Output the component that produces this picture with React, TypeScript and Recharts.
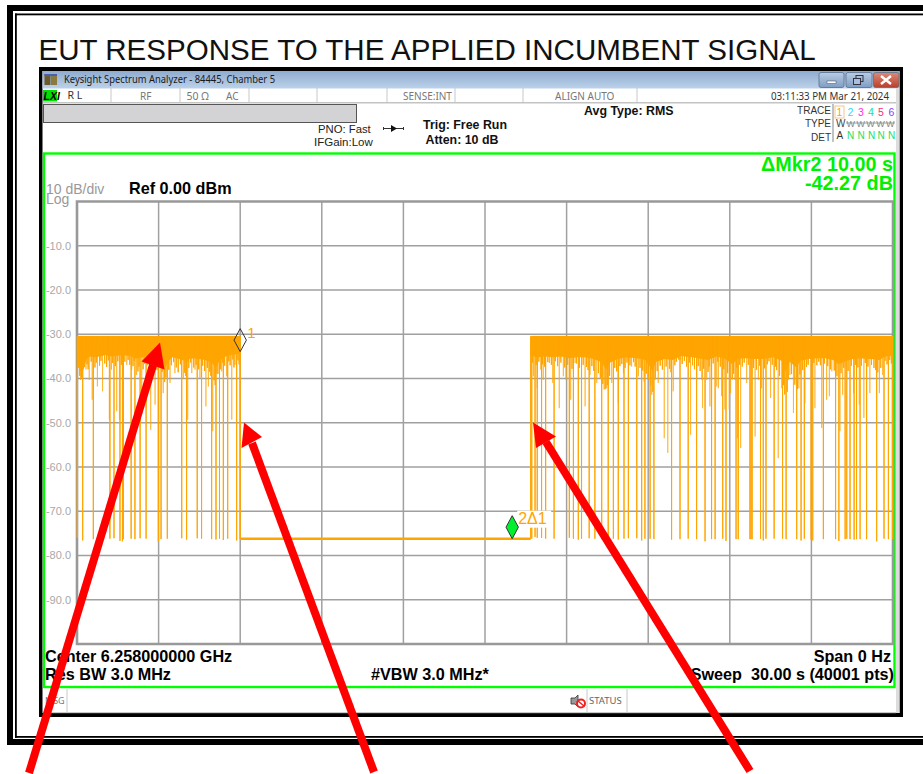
import React from "react";
import { ComposedChart, Area, Line, XAxis, YAxis, CartesianGrid, ReferenceArea, ReferenceDot } from "recharts";

const TITLE = "EUT RESPONSE TO THE APPLIED INCUMBENT SIGNAL";
const yTicks = [-10, -20, -30, -40, -50, -60, -70, -80, -90];
const xGrid = [3, 6, 9, 12, 15, 18, 21, 24, 27];
const TRACE_TOP = -30.5;
const FLOOR = -76.2;

const leftDeepDips: [number, number][] = [
  [0.01, -76], [0.21, -76.6], [0.6, -76.3], [1.21, -76.2], [1.36, -76.1], [1.58, -76.7], [1.67, -76.8], [1.71, -76.3],
  [1.99, -76.2], [2.13, -76.3], [2.32, -76.1], [2.54, -76.2], [2.99, -76.9], [3.09, -76.3], [3.32, -76.2], [3.85, -76.1],
  [4.03, -76.4], [4.42, -76.1], [4.58, -76.2], [4.95, -76.3], [5.11, -76.4], [5.24, -76.2], [5.38, -76.5], [5.54, -76.2],
  [5.87, -76.6], [6.0, -76.2],
];
const leftPartialDips: [number, number][] = [
  [0.13, -40.3], [0.33, -38], [0.45, -40.3], [0.56, -44.8], [0.75, -41.8], [0.94, -42.9], [1.19, -49.3], [1.27, -38],
  [1.46, -47.4], [1.56, -49.3], [1.83, -36.9], [2.01, -38], [2.19, -39.2], [2.38, -46.3], [2.71, -51.6], [2.87, -45.9],
  [3.17, -43.3], [3.42, -41], [3.6, -38.8], [3.91, -39.9], [4.07, -49.3], [4.22, -38.8], [4.34, -38], [4.52, -39.9],
  [4.74, -46.3], [4.83, -41.8], [4.99, -51.9], [5.14, -38.8], [5.32, -38.4], [5.5, -39.5], [5.69, -49.3], [5.81, -36.9],
];
const leftShortDips: [number, number][] = [
  [0.06, -37.6], [0.1, -39.4], [0.17, -39.8], [0.27, -37.4], [0.37, -36.8], [0.41, -37.9], [0.52, -36.2], [0.66, -37.5], [0.71, -36.4],
  [0.83, -37.1], [0.88, -36], [1.02, -36.6], [1.09, -37.4], [1.15, -35.9], [1.31, -36.5], [1.41, -37.2], [1.5, -36.1], [1.63, -36.9],
  [1.76, -36.2], [1.88, -35.8], [1.94, -36.9], [2.06, -37.2], [2.1, -36], [2.24, -38.4], [2.28, -37.3], [2.43, -37.9], [2.49, -36.7],
  [2.6, -37], [2.66, -36.1], [2.78, -37.6], [2.83, -36.4], [2.94, -38.1], [3.04, -37.5], [3.13, -38.5], [3.22, -40.8], [3.27, -39.8],
  [3.37, -38], [3.47, -37], [3.55, -36.3], [3.65, -37.5], [3.72, -38.6], [3.8, -36.8], [3.96, -38.7], [4.0, -39.4], [4.11, -37.6],
  [4.18, -36.4], [4.29, -37.5], [4.38, -36.9], [4.47, -37.9], [4.62, -37.1], [4.69, -38.3], [4.79, -37.6], [4.88, -38.5], [4.92, -39.4],
  [5.04, -40.4], [5.08, -41.5], [5.18, -39], [5.28, -37.9], [5.35, -36.4], [5.43, -37.1], [5.58, -36.1], [5.63, -37], [5.73, -35.7],
  [5.77, -37.5], [5.92, -35.9], [5.96, -36.8],
];
const rightDeepDips: [number, number][] = [
  [16.68, -76.2], [16.72, -76.2], [16.84, -75.8], [16.92, -76], [17.08, -76], [17.23, -76.2], [17.54, -76.2], [18.1, -76],
  [18.25, -76.2], [18.43, -76.4], [18.55, -76.2], [18.83, -76.1], [19.04, -76.2], [19.29, -76.3], [19.53, -76.2], [19.72, -76.2],
  [19.9, -76.4], [20.11, -76.2], [20.27, -76.1], [20.58, -76.1], [20.76, -76.6], [20.88, -76.2], [21.07, -76.2], [21.21, -76.3],
  [21.86, -76.4], [22.17, -76.3], [22.47, -76.2], [22.78, -76.3], [23.09, -76.8], [23.33, -76.3], [23.46, -76.3], [23.74, -76.2],
  [23.86, -76.7], [24.23, -76.3], [24.31, -76.3], [24.74, -76.3], [24.78, -76.3], [24.82, -76.3], [25.13, -76.2], [25.23, -76.6],
  [25.33, -76.2], [25.63, -76.2], [25.94, -76.2], [26.07, -76.3], [26.46, -76.3], [26.62, -76.6], [26.74, -76.2], [26.99, -76.4],
  [27.05, -76.6], [27.44, -76.3], [27.89, -76.3], [28.01, -76.7], [28.24, -76.3], [28.3, -76.2], [28.42, -76.3], [28.57, -76.4],
  [28.66, -76.3], [28.79, -76.3], [29.03, -76.3], [29.4, -76.8], [29.67, -76.2], [29.83, -76.3], [29.99, -76.3],
];
const rightPartialDips: [number, number][] = [
  [16.78, -39.5], [16.92, -42.2], [17.05, -38], [17.14, -40.3], [17.37, -36.5], [17.49, -41], [17.73, -46.7], [17.88, -39.5],
  [17.98, -40.3], [18.15, -44.8], [18.31, -36.5], [18.68, -46.3], [18.86, -39.2], [19.11, -41], [19.38, -42.5], [19.47, -42.2],
  [19.66, -41], [19.9, -45.6], [20.09, -38.8], [20.39, -37.3], [20.64, -39.5], [20.85, -40.7], [21.13, -43.7], [21.37, -41],
  [21.59, -53.5], [21.72, -56.8], [21.92, -42.9], [22.17, -35.8], [22.56, -52.7], [22.78, -39.9], [22.97, -40.3], [23.27, -46.3],
  [23.52, -41.8], [23.0, -46.7], [23.15, -40.3], [23.58, -42.2], [23.7, -44], [23.82, -47], [23.98, -47], [24.03, -43.3],
  [24.19, -40.3], [24.28, -53.5], [24.4, -55.7], [24.62, -41], [24.93, -53.1], [25.05, -40.3], [25.17, -42.2], [25.5, -44.4],
  [25.78, -58], [25.91, -42.2], [26.21, -39.2], [26.34, -47.8], [26.54, -42.2], [26.76, -45.6], [27.13, -46.7], [27.38, -51.2],
  [27.56, -44.8], [27.66, -44], [27.75, -38.4], [28.05, -51.9], [28.15, -43.7], [28.55, -43.3], [28.76, -45.9], [28.93, -48.9],
  [29.15, -43.3], [29.5, -43.3], [29.62, -39.2],
];
const rightShortDips: [number, number][] = [
  [16.75, -36.4], [16.88, -36.9], [16.98, -36.2], [17.11, -36.8], [17.19, -37.3], [17.31, -36.3], [17.44, -36.9], [17.59, -36.1], [17.67, -37.2],
  [17.79, -36.4], [17.93, -37.5], [18.04, -36.9], [18.2, -37.8], [18.36, -36.6], [18.47, -37.6], [18.61, -36.9], [18.73, -37.4], [18.79, -38.1],
  [18.93, -37.2], [19.0, -38.3], [19.17, -38.8], [19.24, -40], [19.33, -41.2], [19.42, -42.4], [19.5, -41.5], [19.58, -39.4], [19.77, -37.6],
  [19.84, -38.4], [19.96, -37.2], [20.03, -36.7], [20.15, -37.6], [20.22, -36.4], [20.33, -37], [20.46, -36.3], [20.52, -37.3], [20.7, -37.6],
  [20.8, -38.2], [20.93, -38.9], [21.0, -40.1], [21.09, -41.6], [21.17, -43], [21.26, -40.2], [21.33, -38.3], [21.44, -37.1], [21.52, -38],
  [21.66, -37.3], [21.78, -37.8], [21.84, -38.6], [21.98, -37], [22.04, -36.2], [22.11, -35.7], [22.25, -36.7], [22.33, -36], [22.41, -37.3],
  [22.52, -36.4], [22.63, -37], [22.7, -37.9], [22.84, -37.2], [22.91, -38.3], [23.04, -37.8], [23.2, -38.5], [23.24, -37.3], [23.39, -36.6],
  [23.56, -36.2], [23.65, -37.3], [23.78, -37.9], [23.92, -38.8], [24.09, -40.2], [24.14, -38.9], [24.25, -37.5], [24.36, -36.9], [24.46, -37.3],
  [24.53, -36.4], [24.68, -36.9], [24.87, -37.6], [24.98, -38], [25.1, -37.1], [25.27, -37.7], [25.38, -36.8], [25.44, -36.1], [25.56, -36.9],
  [25.68, -37.3], [25.72, -38.1], [25.83, -39.4], [25.98, -41.5], [26.02, -43.6], [26.11, -43], [26.15, -40.2], [26.27, -39], [26.39, -41.4],
  [26.49, -42.4], [26.58, -39.1], [26.68, -38.1], [26.82, -37.4], [26.88, -36.9], [27.02, -37.2], [27.09, -36.5], [27.2, -37], [27.27, -36.2],
  [27.33, -37], [27.48, -36.6], [27.6, -37.2], [27.7, -37.9], [27.84, -38.2], [27.94, -39.5], [28.09, -38.8], [28.19, -37.6], [28.35, -38.3],
  [28.47, -37.1], [28.62, -36.9], [28.71, -37.5], [28.84, -37.1], [28.98, -36.5], [29.08, -37.3], [29.21, -36.9], [29.3, -37.6], [29.36, -38.1],
  [29.44, -38.6], [29.55, -37.6], [29.71, -36], [29.78, -36.8], [29.88, -35.8], [29.94, -36.6],
];
const leftBandEdge: [number, number][] = [
  [0, -34.3], [0.12, -38.4], [0.24, -38], [0.36, -35.4], [0.5, -35], [0.7, -35.2], [0.9, -34.9], [1.05, -34.7], [1.25, -35],
  [1.5, -34.8], [1.7, -34.7], [1.95, -34.9], [2.15, -35.5], [2.3, -35.3], [2.5, -35], [2.8, -35.5], [3.0, -35.8], [3.15, -36.2],
  [3.25, -37.5], [3.35, -36.2], [3.5, -35.2], [3.7, -35.5], [3.9, -35.9], [4.03, -36.5], [4.15, -35.5], [4.4, -35.5], [4.7, -35.8],
  [4.95, -36.4], [5.1, -37.5], [5.25, -35.9], [5.5, -34.9], [5.75, -34.6], [6.0, -34.4],
];
const rightBandEdge: [number, number][] = [
  [16.68, -34.8], [16.9, -35.2], [17.2, -35], [17.5, -35.2], [17.8, -35], [18.1, -35.4], [18.4, -35.2], [18.7, -35.2],
  [19.0, -35.6], [19.3, -36.4], [19.45, -38], [19.6, -36.4], [19.9, -35.6], [20.2, -35.2], [20.6, -35.4], [20.9, -35.8],
  [21.15, -38.2], [21.3, -36.2], [21.6, -35.6], [21.9, -35.8], [22.2, -34.9], [22.6, -35.2], [22.9, -35.5], [23.2, -35.8],
  [23.5, -35], [23.8, -35.5], [24.1, -36.8], [24.3, -35.5], [24.6, -35.4], [24.9, -35.6], [25.2, -35.6], [25.6, -35.2],
  [25.9, -36], [26.05, -38.5], [26.2, -36.2], [26.45, -37.5], [26.6, -36], [26.9, -35.6], [27.2, -35.4], [27.5, -35.4],
  [27.8, -35.8], [28.0, -36.8], [28.3, -36], [28.6, -35.5], [28.9, -35.5], [29.2, -35.6], [29.5, -35.8], [29.7, -35], [30, -34.8],
];
const floorLevels: [number, number][] = [
  [6.0, -76.2], [16.68, -76.2],
];

const zig = (dips: [number, number][], key: string) =>
  [...dips].sort((a, b) => a[0] - b[0]).flatMap(([t, v]) => [
    { t, [key]: TRACE_TOP },
    { t, [key]: v },
    { t, [key]: TRACE_TOP },
  ]);
const rows: any[] = [
  ...leftBandEdge.map(([t, v]) => ({ t, bandLeft: [v, TRACE_TOP] })),
  ...rightBandEdge.map(([t, v]) => ({ t, bandRight: [v, TRACE_TOP] })),
  ...zig(leftDeepDips, "deepLeft"),
  ...zig(rightDeepDips, "deepRight"),
  ...zig(leftPartialDips, "partLeft"),
  ...zig(rightPartialDips, "partRight"),
  ...zig(leftShortDips, "shortLeft"),
  ...zig(rightShortDips, "shortRight"),
  ...floorLevels.map(([t, v]) => ({ t, floor: v })),
].map((r, i) => ({ ...r, i }));
rows.sort((a, b) => a.t - b.t || a.i - b.i);

const ORANGE = "#ffa500";
const SANS = "'Liberation Sans', Arial, sans-serif";
const UI = "'Noto Sans', sans-serif";

const Diamond = (fill: string, label: string, labelDx: number, labelDy: number, bg: boolean, size: number) => (p: any) => {
  const { cx, cy } = p;
  const w = 6.2, h = 23;
  return (
    <g>
      {bg && <rect x={cx + labelDx - 1} y={cy + labelDy - 13} width={34} height={17} fill="#fff" />}
      <polygon points={`${cx},${cy} ${cx - w},${cy - h / 2} ${cx},${cy - h} ${cx + w},${cy - h / 2}`} fill={fill} stroke="#333" strokeWidth={1} />
      <text x={cx + labelDx} y={cy + labelDy} fontFamily={SANS} fontSize={size} fill={ORANGE}>{label}</text>
    </g>
  );
};

const Arrow = ({ x1, y1, x2, y2, tip, a, b }: any) => (
  <g>
    <line x1={x1} y1={y1} x2={x2} y2={y2} stroke="#ff0000" strokeWidth={8} />
    <polygon points={`${tip[0]},${tip[1]} ${a[0]},${a[1]} ${b[0]},${b[1]}`} fill="#ff0000" />
  </g>
);

const T = ({ x, y, s = 11, c = "#000", b = false, f = SANS, a = "start", children, ...rest }: any) => (
  <text x={x} y={y} fontSize={s} fill={c} fontWeight={b ? 700 : 400} fontFamily={f} textAnchor={a} {...rest}>{children}</text>
);

const WinBtn = ({ x, w, red, children }: any) => (
  <g>
    <rect x={x} y={72.5} width={w} height={15} rx={2} fill={red ? "url(#btnRed)" : "url(#btnBlue)"} stroke="#5a6e8a" strokeWidth={0.8} />
    {children}
  </g>
);

const Sep = ({ x, y1 = 88, y2 = 102 }: any) => <line x1={x} x2={x} y1={y1} y2={y2} stroke="#c8c8c8" strokeWidth={1} />;

export default function App() {
  return (
    <div style={{ position: "absolute", left: 0, top: 0, width: 923, height: 774, background: "#fff", overflow: "hidden" }}>
      <svg width={923} height={774} style={{ position: "absolute", left: 0, top: 0 }}>
        <defs>
          <linearGradient id="titleBar" x1="0" y1="0" x2="0" y2="1">
            <stop offset="0" stopColor="#8fabcf" />
            <stop offset="1" stopColor="#bcd2ea" />
          </linearGradient>
          <linearGradient id="btnBlue" x1="0" y1="0" x2="0" y2="1">
            <stop offset="0" stopColor="#b9cde4" />
            <stop offset="1" stopColor="#7f9dc3" />
          </linearGradient>
          <linearGradient id="btnRed" x1="0" y1="0" x2="0" y2="1">
            <stop offset="0" stopColor="#dc8a78" />
            <stop offset="1" stopColor="#b9402c" />
          </linearGradient>
        </defs>
        {/* page frame */}
        <rect x={7} y={5} width={930} height={6} fill="#000" />
        <rect x={7} y={5} width={6} height={740} fill="#000" />
        <rect x={7} y={739} width={930} height={6} fill="#000" />
        <rect x={15} y={13.5} width={920} height={1.8} fill="#000" />
        <rect x={15} y={13.5} width={1.8} height={724.5} fill="#000" />
        <rect x={15} y={736} width={920} height={1.8} fill="#000" />
        <T x={38.5} y={60} s={29.55} c="#111">{TITLE}</T>

        {/* analyzer window */}
        <rect x={39} y={67} width={864} height={650} fill="#000" />
        <rect x={42.5} y={71} width={857} height={642} fill="#fff" />
        <rect x={42.5} y={71} width={857} height={17.5} fill="url(#titleBar)" />
        <rect x={896} y={88} width={3.5} height={625} fill="#dcdcdc" />
        <rect x={44.5} y={74} width={6} height={11} fill="#6b5a2e" />
        <rect x={51} y={75} width={6} height={10} fill="#8a7a3e" />
        <rect x={44.5} y={74} width={12.5} height={2} fill="#4a5fae" />
        <T x={64} y={83} s={10.6} f={UI} c="#1a1a1a" textLength={211} lengthAdjust="spacingAndGlyphs">Keysight Spectrum Analyzer - 84445, Chamber 5</T>
        <WinBtn x={819} w={25}><rect x={827} y={81} width={9} height={2.5} fill="#fff" stroke="#445" strokeWidth={0.5} /></WinBtn>
        <WinBtn x={846} w={26}>
          <rect x={856} y={75.5} width={7} height={6} fill="none" stroke="#334" strokeWidth={1} />
          <rect x={853.5} y={78.5} width={7} height={6} fill="#a8c0dc" stroke="#334" strokeWidth={1} />
        </WinBtn>
        <WinBtn x={873.5} w={25.5} red>
          <path d="M881,76 L891,84 M891,76 L881,84" stroke="#fff" strokeWidth={2.4} />
        </WinBtn>

        {/* status bar */}
        <rect x={43} y={90} width={14} height={11.5} fill="#00e000" />
        <T x={43.5} y={100} s={10.5} b c="#000" fontStyle="italic">LXI</T>
        <T x={67.5} y={99} s={10.5} f={UI} c="#333">R L</T>
        <T x={140} y={100} s={10} f={UI} c="#777">RF</T>
        <T x={186.5} y={100} s={10.5} f={UI} c="#777">50 Ω</T>
        <T x={226} y={100} s={10} f={UI} c="#777">AC</T>
        <T x={403} y={100} s={10} f={UI} c="#777">SENSE:INT</T>
        <T x={555} y={100} s={10} f={UI} c="#777">ALIGN AUTO</T>
        <T x={771} y={100} s={10.4} f={UI} c="#333" textLength={118} lengthAdjust="spacingAndGlyphs">03:11:33 PM Mar 21, 2024</T>
        {[111, 180, 249, 317, 387, 455, 523, 637].map((x) => <Sep key={x} x={x} />)}
        <rect x={43} y={102} width={853} height={1.5} fill="#c4c4c4" />
        <rect x={43.5} y={104.5} width={313} height={18} fill="#d3d2d4" stroke="#555" strokeWidth={1} />

        <T x={318} y={133} s={11.3} c="#222">PNO: Fast</T>
        <T x={314} y={146} s={11.5} c="#222">IFGain:Low</T>
        <line x1={383} x2={404} y1={128.5} y2={128.5} stroke="#333" strokeWidth={1} />
        <polygon points="391,125 397,128.5 391,132" fill="#111" />
        <line x1={383.5} x2={383.5} y1={127} y2={130} stroke="#333" />
        <line x1={403.5} x2={403.5} y1={127} y2={130} stroke="#333" />
        <T x={423} y={129} s={12.4} b c="#111">Trig: Free Run</T>
        <T x={425.5} y={144} s={12.4} b c="#111">Atten: 10 dB</T>
        <T x={584} y={115} s={12.4} b c="#111">Avg Type: RMS</T>

        {/* trace table */}
        <T x={831} y={114} s={10} a="end" c="#333">TRACE</T>
        <T x={831} y={127} s={10} a="end" c="#333">TYPE</T>
        <T x={831} y={141} s={10} a="end" c="#333">DET</T>
        <line x1={833} x2={833} y1={104} y2={142} stroke="#999" strokeWidth={1.2} />
        <rect x={835} y={106} width={9} height={12} fill="none" stroke="#f3c892" strokeWidth={1} />
        {[["1", 836.5, ORANGE], ["2", 847.5, "#22e0ff"], ["3", 858, "#ff30e0"], ["4", 868, "#22e08a"], ["5", 878, "#ff2a80"], ["6", 888.5, "#8a40ff"]].map(([l, x, c]) => (
          <T key={l as string} x={x} y={115.5} s={10.5} c={c}>{l}</T>
        ))}
        <T x={836} y={127} s={10} c="#444">W</T>
        <T x={846.5} y={127} s={9} c="#888" textLength={48}>WWWWW</T>
        <line x1={846} x2={895} y1={123} y2={123} stroke="#888" strokeWidth={0.8} />
        <T x={836.5} y={139} s={10} c="#333">A</T>
        {[847, 857.5, 868, 877.5, 888].map((x) => <T key={x} x={x} y={139} s={10} c="#22e060">N</T>)}

        {/* green frame */}
        <rect x={44} y={153.5} width={850.5} height={533.5} fill="none" stroke="#00ff00" strokeWidth={2.4} />
        <T x={893} y={171} s={19.8} b c="#00f000" a="end">ΔMkr2 10.00 s</T>
        <T x={893} y={190} s={19.8} b c="#00f000" a="end">-42.27 dB</T>
        <T x={46} y={193.5} s={14} c="#999">10 dB/div</T>
        <T x={46} y={203.5} s={14} c="#999">Log</T>
        <T x={129} y={193.5} s={16.2} b c="#000">Ref 0.00 dBm</T>
        <T x={45} y={661.5} s={16.2} b c="#000">Center 6.258000000 GHz</T>
        <T x={45} y={679.5} s={16.2} b c="#000">Res BW 3.0 MHz</T>
        <T x={371} y={679.5} s={16.2} b c="#000">#VBW 3.0 MHz*</T>
        <T x={891} y={661.5} s={16.2} b c="#000" a="end">Span 0 Hz</T>
        <T x={894} y={679.5} s={16.2} b c="#000" a="end" style={{ whiteSpace: "pre" }}>Sweep  30.00 s (40001 pts)</T>

        {/* message bar */}
        <T x={45} y={704} s={9} f={UI} c="#777">MSG</T>
        <Sep x={67} y1={689} y2={713} />
        <Sep x={587} y1={689} y2={713} />
        <Sep x={627} y1={689} y2={713} />
        <rect x={43} y={712} width={853} height={1.2} fill="#c8c8c8" />
        <polygon points="571,698 575,698 578,695 578,707 575,704 571,704" fill="#999" stroke="#333" strokeWidth={0.8} />
        <circle cx={581} cy={703.5} r={4} fill="#fff" stroke="#ee2222" strokeWidth={2} />
        <line x1={578} y1={701} x2={584} y2={706} stroke="#ee2222" strokeWidth={1.5} />
        <T x={589} y={704} s={9.5} f={UI} c="#666">STATUS</T>
      </svg>

      <div style={{ position: "absolute", left: 0, top: 0 }}>
        <ComposedChart
          width={923}
          height={774}
          data={rows}
          margin={{ top: 201.5, left: 47, right: 30, bottom: 130 }}
        >
          <XAxis type="number" dataKey="t" domain={[0, 30]} hide allowDuplicatedCategory />
          <YAxis
            type="number"
            domain={[-100, 0]}
            ticks={yTicks}
            width={30}
            tickFormatter={(v: number) => v.toFixed(1)}
            tick={{ fontFamily: SANS, fontSize: 11, fill: "#a8a8a8" }}
            axisLine={false}
            tickLine={false}
            tickMargin={0}
          />
          <CartesianGrid stroke="#a0a0a0" strokeWidth={1.5} horizontalValues={yTicks} verticalValues={xGrid} />
          <ReferenceArea x1={0} x2={30} y1={-100} y2={0} fill="none" stroke="#999" strokeWidth={2.6} />
          <Area dataKey="bandLeft" type="linear" stroke="none" fill={ORANGE} fillOpacity={1} connectNulls dot={false} activeDot={false} isAnimationActive={false} />
          <Area dataKey="bandRight" type="linear" stroke="none" fill={ORANGE} fillOpacity={1} connectNulls dot={false} activeDot={false} isAnimationActive={false} />
          <Line dataKey="shortLeft" type="linear" stroke={ORANGE} strokeWidth={1} strokeLinejoin="bevel" connectNulls dot={false} activeDot={false} isAnimationActive={false} />
          <Line dataKey="shortRight" type="linear" stroke={ORANGE} strokeWidth={1} strokeLinejoin="bevel" connectNulls dot={false} activeDot={false} isAnimationActive={false} />
          <Line dataKey="partLeft" type="linear" stroke={ORANGE} strokeOpacity={0.6} strokeWidth={1} strokeLinejoin="bevel" connectNulls dot={false} activeDot={false} isAnimationActive={false} />
          <Line dataKey="partRight" type="linear" stroke={ORANGE} strokeOpacity={0.6} strokeWidth={1} strokeLinejoin="bevel" connectNulls dot={false} activeDot={false} isAnimationActive={false} />
          <Line dataKey="deepLeft" type="linear" stroke={ORANGE} strokeWidth={1} strokeLinejoin="bevel" connectNulls dot={false} activeDot={false} isAnimationActive={false} />
          <Line dataKey="deepRight" type="linear" stroke={ORANGE} strokeWidth={1} strokeLinejoin="bevel" connectNulls dot={false} activeDot={false} isAnimationActive={false} />
          <Line dataKey="floor" type="linear" stroke={ORANGE} strokeWidth={2.6} connectNulls dot={false} activeDot={false} isAnimationActive={false} />
          <ReferenceDot x={6} y={-33.93} r={0} shape={Diamond("none", "1", 7, -14, false, 15)} />
          <ReferenceDot x={16} y={FLOOR} r={0} shape={Diamond("#00f030", "2Δ1", 6, -15, true, 16)} />
        </ComposedChart>
      </div>

      <svg width={923} height={774} style={{ position: "absolute", left: 0, top: 0, pointerEvents: "none" }}>
        <Arrow x1={29} y1={773} x2={153} y2={365} tip={[160, 342.5]} a={[141.5, 361.5]} b={[164.5, 369.5]} />
        <Arrow x1={374} y1={772} x2={252} y2={443} tip={[244, 422.5]} a={[241.5, 448]} b={[262, 437]} />
        <Arrow x1={750} y1={771} x2={546} y2={442} tip={[533, 422.5]} a={[536, 448]} b={[556, 436.5]} />
      </svg>
    </div>
  );
}
